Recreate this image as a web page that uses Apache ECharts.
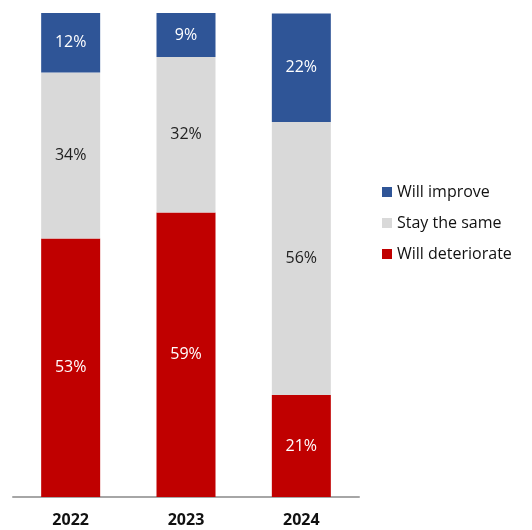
<!DOCTYPE html>
<html>
<head>
<meta charset="utf-8">
<script src="https://cdn.jsdelivr.net/npm/echarts@6/dist/echarts.min.js"></script>
<style>
  html, body { margin: 0; padding: 0; background: #fff; }
  #chart { width: 532px; height: 530px; }
</style>
</head>
<body>
<div id="chart"></div>
<script>
// Survey outlook by year (share of respondents, %)
const years = ['2022', '2023', '2024'];
const willDeteriorate = [53.4, 58.8, 21.1];
const stayTheSame = [34.3, 32.1, 56.4];
const willImprove = [12.3, 9.1, 22.4];

const seriesNames = ['Will deteriorate', 'Stay the same', 'Will improve'];
const seriesColors = ['#C00000', '#D9D9D9', '#2F5597'];
const labelColors = ['#ffffff', '#222222', '#ffffff'];
const seriesData = [willDeteriorate, stayTheSame, willImprove];

const font = '"Open Sans", "Liberation Sans", sans-serif';

const chart = echarts.init(document.getElementById('chart'), null, { renderer: 'canvas' });

chart.setOption({
  animation: false,
  backgroundColor: '#ffffff',
  grid: { left: 13, right: 173, top: 13, bottom: 33, containLabel: false },
  legend: {
    orient: 'vertical',
    left: 377,
    top: 177,
    itemWidth: 10,
    itemHeight: 10,
    itemGap: 11,
    icon: 'rect',
    data: ['Will improve', 'Stay the same', 'Will deteriorate'],
    textStyle: { fontFamily: font, fontSize: 16, color: '#111', padding: [0, 0, 0, 0], lineHeight: 20 }
  },
  xAxis: {
    type: 'category',
    data: years,
    axisLine: { lineStyle: { color: '#A6A6A6', width: 2 } },
    axisTick: { show: false },
    axisLabel: { fontFamily: font, fontSize: 16, fontWeight: 'bold', color: '#111', margin: 15 }
  },
  yAxis: {
    type: 'value',
    min: 0,
    max: 100,
    show: false,
    splitLine: { show: false }
  },
  series: seriesNames.map((name, i) => ({
    name,
    type: 'bar',
    stack: 'total',
    barWidth: 59,
    data: seriesData[i],
    itemStyle: { color: seriesColors[i] },
    label: {
      show: true,
      position: 'inside',
      color: labelColors[i],
      fontFamily: font,
      fontSize: 16,
      formatter: p => Math.round(p.value) + '%'
    }
  }))
});
</script>
</body>
</html>
